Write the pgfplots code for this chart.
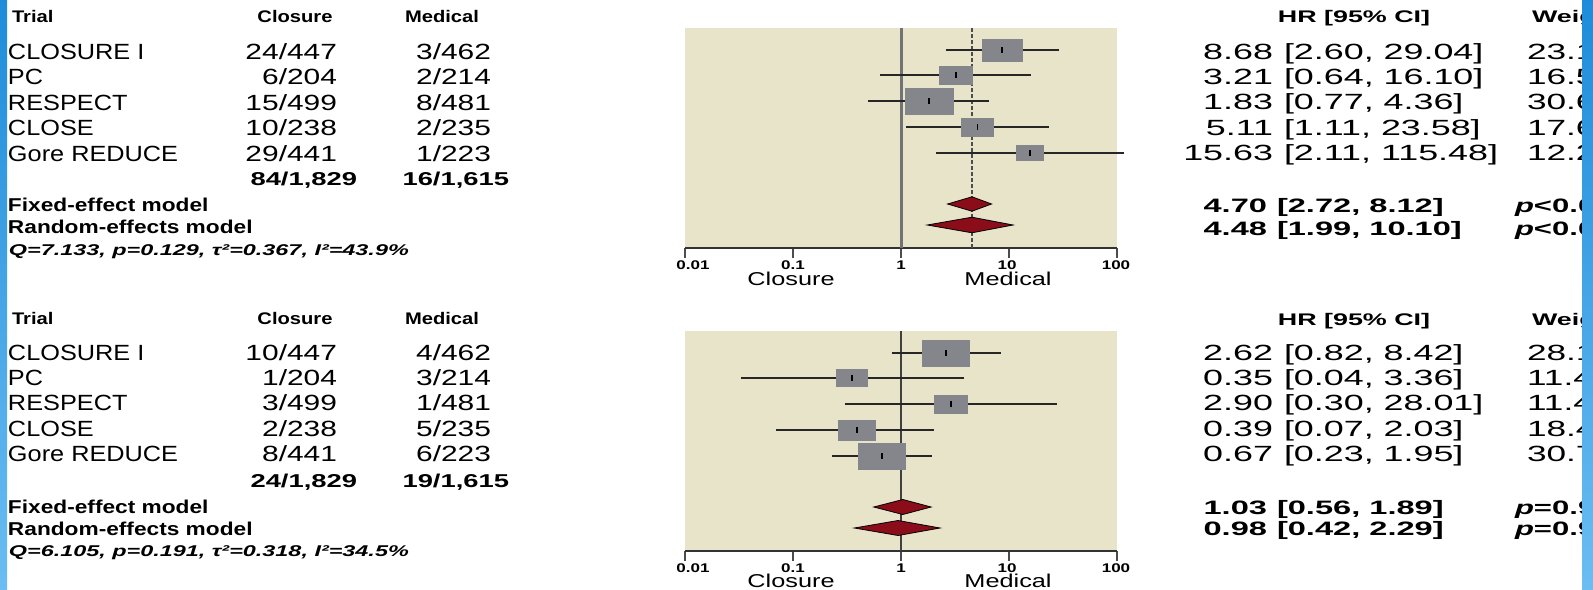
\documentclass[border=0pt]{standalone}
\usepackage{pgfplots}
\pgfplotsset{compat=1.18}
\usepackage{pgfplotstable}
\usepackage{fontspec}
\setmainfont{Liberation Sans}
\definecolor{beige}{HTML}{E8E4C9}
\definecolor{boxgray}{HTML}{85868C}
\definecolor{dred}{HTML}{8C0D1A}
\definecolor{blueA}{HTML}{1E8CDA}
\definecolor{blueB}{HTML}{6BBDF2}

% est lo hi y h(px)
\pgfplotstableread{
est lo hi y h
8.68 2.60 29.04 198 22
3.21 0.64 16.10 173 18
1.83 0.50 6.57 147 26
5.11 1.11 23.58 121 18
15.63 2.11 115.48 95 15
}\topdata
\pgfplotstableread{
x y
2.60 198
29.04 198
nan nan
0.64 173
16.10 173
nan nan
0.50 147
6.57 147
nan nan
1.11 121
23.58 121
nan nan
2.11 95
115.48 95
}\topci
\pgfplotstableread{
est lo hi y h
2.62 0.82 8.42 198 26
0.35 0.033 3.8 173 17
2.90 0.30 28.01 147 18
0.39 0.07 2.03 121 20
0.67 0.23 1.95 95 26
}\botdata
\pgfplotstableread{
x y
0.82 198
8.42 198
nan nan
0.033 173
3.8 173
nan nan
0.30 147
28.01 147
nan nan
0.07 121
2.03 121
nan nan
0.23 95
1.95 95
}\botci

\tikzset{
 nm/.style={font=\fontsize{11}{13}\selectfont, xscale=1.15, anchor=base west},
 num/.style={font=\fontsize{11}{13}\selectfont, xscale=1.36, anchor=base east},
 hd/.style={font=\bfseries\fontsize{8.4}{10}\selectfont, xscale=1.2, anchor=base},
 hdw/.style={font=\bfseries\fontsize{8.4}{10}\selectfont, xscale=1.2, anchor=base west},
 hdr/.style={font=\bfseries\fontsize{8.4}{10}\selectfont, xscale=1.6, anchor=base},
 hdrw/.style={font=\bfseries\fontsize{8.4}{10}\selectfont, xscale=1.6, anchor=base west},
 tot/.style={font=\bfseries\fontsize{9.3}{11}\selectfont, xscale=1.47, anchor=base east},
 mdl/.style={font=\bfseries\fontsize{9.3}{11}\selectfont, xscale=1.22, anchor=base west},
 qq/.style={font=\bfseries\itshape\fontsize{7.8}{9}\selectfont, xscale=1.5, anchor=base west},
 hre/.style={font=\fontsize{11}{13}\selectfont, xscale=1.63, anchor=base east},
 hrc/.style={font=\fontsize{11}{13}\selectfont, xscale=1.63, anchor=base west},
 hrbe/.style={font=\bfseries\fontsize{9.7}{11}\selectfont, xscale=1.68, anchor=base east},
 hrbc/.style={font=\bfseries\fontsize{9.7}{11}\selectfont, xscale=1.68, anchor=base west},
 wt/.style={font=\fontsize{11}{13}\selectfont, xscale=1.6, anchor=base west},
 pv/.style={font=\bfseries\fontsize{9.7}{11}\selectfont, xscale=1.6, anchor=base west},
 tk/.style={font=\bfseries\fontsize{6.3}{7}\selectfont, xscale=1.35, anchor=base},
 sd/.style={font=\fontsize{9.3}{11}\selectfont, xscale=1.36, anchor=base},
}

\begin{document}
\begin{tikzpicture}
% ---------- top panel ----------
\begin{axis}[at={(342.5pt,-124pt)},
    scale only axis, width=216pt, height=110pt, anchor=south west,
    xmode=log, xmin=0.01, xmax=100, ymin=0, ymax=220,
    axis x line=bottom, axis y line=none,
    axis line style={-, line width=1pt, black!80},
    xtick={0.01,0.1,1,10,100}, xticklabels={}, xminorticks=false,
    tick align=outside, major tick length=5pt,
    tick style={line width=1pt, black!70},
    ytick=\empty, clip=false, unbounded coords=jump,
    axis background/.style={fill=beige}]
\addplot[color=black!55, line width=1.5pt] coordinates {(1,0) (1,220)};
\addplot[color=black!70, line width=0.8pt, dash pattern=on 2pt off 1pt] coordinates {(4.54,0) (4.54,220)};
\addplot[scatter, only marks, mark=square*, color=boxgray,
    scatter/use mapped color={draw=boxgray, fill=boxgray},
    visualization depends on={\thisrow{h}/4 \as \hh},
    scatter/@pre marker code/.append style={/tikz/mark size=\hh pt, /tikz/xscale=1.82}]
    table[x=est,y=y] {\topdata};
\addplot[black!85, line width=0.55pt] table[x=x,y=y] {\topci};
\addplot[only marks, mark=|, mark size=1.5pt, mark options={line width=0.9pt, black}] table[x=est,y=y] {\topdata};
\addplot[fill=dred, draw=black, line width=0.4pt] coordinates {(2.70,44) (4.54,51.2) (6.90,44) (4.54,36.8)} -- cycle;
\addplot[fill=dred, draw=black, line width=0.4pt] coordinates {(1.75,23) (4.54,30.8) (10.9,23) (4.54,15.2)} -- cycle;
\end{axis}

% ---------- bottom panel ----------
\begin{axis}[at={(342.5pt,-275.5pt)},
    scale only axis, width=216pt, height=110pt, anchor=south west,
    xmode=log, xmin=0.01, xmax=100, ymin=0, ymax=220,
    axis x line=bottom, axis y line=none,
    axis line style={-, line width=1pt, black!80},
    xtick={0.01,0.1,1,10,100}, xticklabels={}, xminorticks=false,
    tick align=outside, major tick length=5pt,
    tick style={line width=1pt, black!70},
    ytick=\empty, clip=false, unbounded coords=jump,
    axis background/.style={fill=beige}]
\addplot[color=black!75, line width=1.4pt] coordinates {(1,0) (1,220)};
\addplot[scatter, only marks, mark=square*, color=boxgray,
    scatter/use mapped color={draw=boxgray, fill=boxgray},
    visualization depends on={\thisrow{h}/4 \as \hh},
    scatter/@pre marker code/.append style={/tikz/mark size=\hh pt, /tikz/xscale=1.82}]
    table[x=est,y=y] {\botdata};
\addplot[black!85, line width=0.55pt] table[x=x,y=y] {\botci};
\addplot[only marks, mark=|, mark size=1.5pt, mark options={line width=0.9pt, black}] table[x=est,y=y] {\botdata};
\addplot[fill=dred, draw=black, line width=0.4pt] coordinates {(0.56,44) (1.04,51.5) (1.90,44) (1.04,36.5)} -- cycle;
\addplot[fill=dred, draw=black, line width=0.4pt] coordinates {(0.37,23) (0.94,30.5) (2.30,23) (0.94,15.5)} -- cycle;
\end{axis}

\begin{scope}[x=0.5pt,y=-0.5pt, every node/.style={inner sep=0pt, outer sep=0pt}]
% ===== top text =====
\node[hdw] at (12,22.7) {Trial};
\node[hd] at (295,22.7) {Closure};
\node[hd] at (442,22.7) {Medical};
\node[hdr] at (1354,22.7) {HR [95\% CI]};
\node[hdrw] at (1532,22.7) {Weight};

\node[nm] at (8,59.3) {CLOSURE I};
\node[nm] at (8,84.3) {PC};
\node[nm] at (8,110) {RESPECT};
\node[nm] at (8,135.5) {CLOSE};
\node[nm] at (8,161) {Gore REDUCE};
\node[num] at (337,59.3) {24/447};
\node[num] at (337,84.3) {6/204};
\node[num] at (337,110) {15/499};
\node[num] at (337,135.5) {10/238};
\node[num] at (337,161) {29/441};
\node[num] at (491,59.3) {3/462};
\node[num] at (491,84.3) {2/214};
\node[num] at (491,110) {8/481};
\node[num] at (491,135.5) {2/235};
\node[num] at (491,161) {1/223};
\node[tot] at (357,185.5) {84/1,829};
\node[tot] at (509,185.5) {16/1,615};
\node[mdl] at (8,211.7) {Fixed-effect model};
\node[mdl] at (8,233.5) {Random-effects model};
\node[qq] at (9,255) {Q=7.133, p=0.129, τ²=0.367, I²=43.9\%};

\node[hre] at (1273,59) {8.68};   \node[hrc] at (1284,59) {[2.60, 29.04]};
\node[hre] at (1273,84.3) {3.21}; \node[hrc] at (1284,84.3) {[0.64, 16.10]};
\node[hre] at (1273,109.5) {1.83};\node[hrc] at (1284,109.5) {[0.77, 4.36]};
\node[hre] at (1273,135) {5.11};  \node[hrc] at (1284,135) {[1.11, 23.58]};
\node[hre] at (1273,160.7) {15.63};\node[hrc] at (1284,160.7) {[2.11, 115.48]};
\node[hrbe] at (1267,212.7) {4.70}; \node[hrbc] at (1277,212.7) {[2.72, 8.12]};
\node[hrbe] at (1267,235) {4.48};   \node[hrbc] at (1277,235) {[1.99, 10.10]};
\node[wt] at (1527,59) {23.1\%};
\node[wt] at (1527,84.3) {16.5\%};
\node[wt] at (1527,109.5) {30.6\%};
\node[wt] at (1527,135) {17.6\%};
\node[wt] at (1527,160.7) {12.2\%};
\node[pv] at (1515,212.7) {\itshape p\upshape<0.001};
\node[pv] at (1515,235) {\itshape p\upshape<0.001};

% axis labels top
\node[tk] at (693,269) {0.01};
\node[tk] at (793,269) {0.1};
\node[tk] at (901,269) {1};
\node[tk] at (1007,269) {10};
\node[tk] at (1116,269) {100};
\node[sd] at (791,285) {Closure};
\node[sd] at (1008,285) {Medical};

% ===== bottom text =====
\node[hdw] at (12,324.5) {Trial};
\node[hd] at (295,324.5) {Closure};
\node[hd] at (442,324.5) {Medical};
\node[hdr] at (1354,325) {HR [95\% CI]};
\node[hdrw] at (1532,325) {Weight};

\node[nm] at (8,360) {CLOSURE I};
\node[nm] at (8,385) {PC};
\node[nm] at (8,410.7) {RESPECT};
\node[nm] at (8,436.7) {CLOSE};
\node[nm] at (8,461.7) {Gore REDUCE};
\node[num] at (337,360) {10/447};
\node[num] at (337,385) {1/204};
\node[num] at (337,410.7) {3/499};
\node[num] at (337,436.7) {2/238};
\node[num] at (337,461.7) {8/441};
\node[num] at (491,360) {4/462};
\node[num] at (491,385) {3/214};
\node[num] at (491,410.7) {1/481};
\node[num] at (491,436.7) {5/235};
\node[num] at (491,461.7) {6/223};
\node[tot] at (357,487.7) {24/1,829};
\node[tot] at (509,487.7) {19/1,615};
\node[mdl] at (8,513.3) {Fixed-effect model};
\node[mdl] at (8,535.7) {Random-effects model};
\node[qq] at (9,556.7) {Q=6.105, p=0.191, τ²=0.318, I²=34.5\%};

\node[hre] at (1273,360) {2.62};   \node[hrc] at (1284,360) {[0.82, 8.42]};
\node[hre] at (1273,385) {0.35};   \node[hrc] at (1284,385) {[0.04, 3.36]};
\node[hre] at (1273,410) {2.90};   \node[hrc] at (1284,410) {[0.30, 28.01]};
\node[hre] at (1273,436.7) {0.39}; \node[hrc] at (1284,436.7) {[0.07, 2.03]};
\node[hre] at (1273,461.7) {0.67}; \node[hrc] at (1284,461.7) {[0.23, 1.95]};
\node[hrbe] at (1267,514.3) {1.03}; \node[hrbc] at (1277,514.3) {[0.56, 1.89]};
\node[hrbe] at (1267,535.7) {0.98}; \node[hrbc] at (1277,535.7) {[0.42, 2.29]};
\node[wt] at (1527,360) {28.1\%};
\node[wt] at (1527,385) {11.4\%};
\node[wt] at (1527,410) {11.4\%};
\node[wt] at (1527,436.7) {18.4\%};
\node[wt] at (1527,461.7) {30.7\%};
\node[pv] at (1515,514.3) {\itshape p\upshape=0.92};
\node[pv] at (1515,535.7) {\itshape p\upshape=0.96};

% axis labels bottom
\node[tk] at (693,572) {0.01};
\node[tk] at (793,572) {0.1};
\node[tk] at (901,572) {1};
\node[tk] at (1007,572) {10};
\node[tk] at (1116,572) {100};
\node[sd] at (791,587.5) {Closure};
\node[sd] at (1008,587.5) {Medical};

% ===== blue edge bars =====
\fill[white] (1593,0) rectangle (1700,589);
\shade[top color=blueA, bottom color=blueB] (0,0) rectangle (7,589);
\shade[top color=blueA, bottom color=blueB] (1582,0) rectangle (1593,589);
\pgfresetboundingbox
\useasboundingbox (0,0) rectangle (1593,589);
\end{scope}
\end{tikzpicture}
\end{document}
